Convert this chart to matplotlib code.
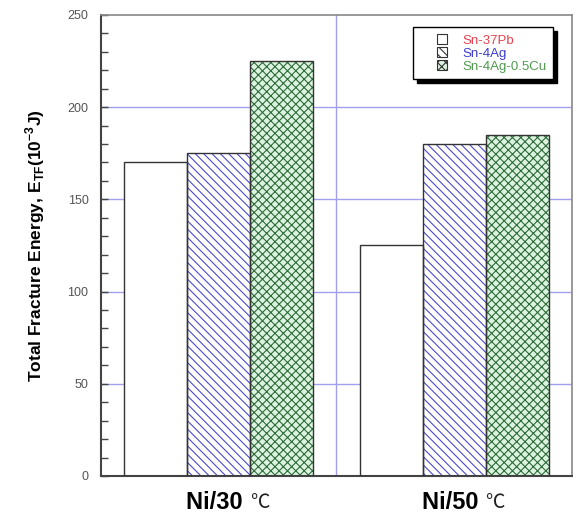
import matplotlib
matplotlib.use("Agg")
import matplotlib.pyplot as plt
import matplotlib.transforms as mtransforms
from matplotlib.patches import Patch, Rectangle
from matplotlib.legend_handler import HandlerPatch
from matplotlib.ticker import MultipleLocator
import numpy as np

groups = ["Ni/30", "Ni/50"]
unit = "\u2103"
alloys = ["Sn-37Pb", "Sn-4Ag", "Sn-4Ag-0.5Cu"]
sn37pb = [170, 125]
sn4ag = [175, 180]
sn4ag05cu = [225, 185]
yticks = [0, 50, 100, 150, 200, 250]

series = [sn37pb, sn4ag, sn4ag05cu]
faces = ["white", "white", "#dcf3df"]
hatches = [None, "\\\\\\\\", "xxxx"]
hatch_cols = ["white", "#4a4ad0", "#2e6b3a"]
text_cols = ["#e8404f", "#3c3cd0", "#4f9a4f"]

plt.rcParams["font.family"] = ["Liberation Sans", "DejaVu Sans"]
plt.rcParams["hatch.linewidth"] = 0.8
plt.rcParams["mathtext.fontset"] = "custom"
plt.rcParams["mathtext.bf"] = "Liberation Sans:bold"
plt.rcParams["mathtext.rm"] = "Liberation Sans"

fig = plt.figure(figsize=(5.77, 5.14), dpi=100)
ax = fig.add_axes([0.175, 0.074, 0.8163, 0.897])

x = np.array([0.5, 1.5])
w = 0.268
for i, vals in enumerate(series):
    pos = x + (i - 1) * w
    ax.bar(pos, vals, width=w, color=faces[i], hatch=hatches[i],
           edgecolor=hatch_cols[i], linewidth=0, zorder=2)
    ax.bar(pos, vals, width=w, fill=False, edgecolor="#333333",
           linewidth=1.0, zorder=3)

ax.set_xlim(0, 2)
ax.set_ylim(0, 250)
ax.set_yticks(yticks)
ax.yaxis.set_minor_locator(MultipleLocator(10))
ax.set_xticks(x)
ax.set_xticklabels([])
ax.tick_params(axis="x", length=0)
ax.tick_params(axis="y", which="both", direction="in", length=5,
               width=1, color="#444444", labelsize=9, labelcolor="#555555", pad=9)

# category labels (bold name + thin degree sign)
off = mtransforms.ScaledTranslation(31 / 100, 0, fig.dpi_scale_trans)
for xi, g in zip(x, groups):
    ax.text(xi, -0.058, g + " ", transform=ax.get_xaxis_transform() + off,
            ha="right", va="center", fontsize=17, fontweight="bold")
    ax.text(xi, -0.058, unit, transform=ax.get_xaxis_transform() + off,
            ha="left", va="center", fontsize=14, family=["Noto Sans CJK SC", "DejaVu Sans"],
            fontweight="light", color="#222222")

for yv in [50, 100, 150, 200]:
    ax.axhline(yv, color="#a0a0ee", linewidth=1.0, zorder=1)
ax.axvline(1.0, color="#a0a0ee", linewidth=1.0, zorder=1)

for side in ["left", "bottom"]:
    ax.spines[side].set_color("#444444")
    ax.spines[side].set_linewidth(1.5)
for side in ["top", "right"]:
    ax.spines[side].set_color("#888888")
    ax.spines[side].set_linewidth(1.2)

ax.set_ylabel("Total Fracture Energy, E$_{\\mathbf{TF}}$(10$^{\\mathbf{-3}}$J)",
              fontsize=12.5, fontweight="bold", labelpad=15)


def right_square(legend, orig_handle, xdescent, ydescent, width, height, fontsize):
    sq = 7.5
    return Rectangle((-xdescent + width - sq, -ydescent + (height - sq) / 2), sq, sq)


handles = []
for i in range(3):
    handles.append(Patch(facecolor=faces[i], edgecolor="#333333",
                         hatch=hatches[i], linewidth=0.8))
leg = ax.legend(handles, alloys, loc="upper right", bbox_to_anchor=(0.959, 0.974),
                fontsize=9.5, frameon=True, fancybox=False,
                shadow={"color": "black", "alpha": 1.0, "ox": 3, "oy": -3},
                edgecolor="black", handlelength=2.1, handleheight=0.9,
                handletextpad=1.1, labelspacing=0.0, borderpad=0.5,
                borderaxespad=0,
                handler_map={Patch: HandlerPatch(patch_func=right_square)})
leg.get_frame().set_linewidth(1.0)
for t, c in zip(leg.get_texts(), text_cols):
    t.set_color(c)

fig.savefig("out.png", dpi=100)
